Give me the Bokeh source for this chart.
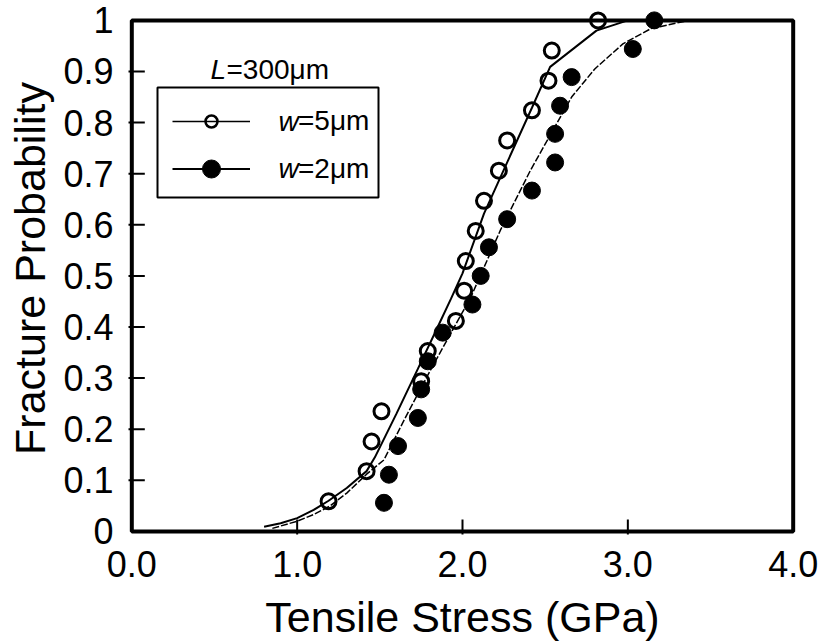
from bokeh.plotting import figure
from bokeh.models import (Range1d, FixedTicker, PrintfTickFormatter, Legend, LegendItem,
                          Label, BoxAnnotation, ColumnDataSource)
from bokeh.embed import file_html
from bokeh.resources import INLINE

# ---------------- data ----------------
open_x = [1.19, 1.42, 1.45, 1.51, 1.75, 1.79, 1.96, 2.01, 2.02, 2.08, 2.13, 2.22, 2.27, 2.42, 2.52, 2.54, 2.82]
open_y = [0.059, 0.118, 0.176, 0.235, 0.294, 0.353, 0.412, 0.471, 0.529, 0.588, 0.647, 0.706, 0.765, 0.824, 0.882, 0.941, 1.0]

filled_x = [1.525, 1.555, 1.61, 1.73, 1.75, 1.79, 1.88, 2.06, 2.11, 2.16, 2.27, 2.42, 2.56, 2.56, 2.59, 2.66, 3.03, 3.16]
filled_y = [0.056, 0.111, 0.167, 0.222, 0.278, 0.333, 0.389, 0.444, 0.5, 0.556, 0.611, 0.667, 0.722, 0.778, 0.833, 0.889, 0.944, 1.0]

fit5_x = [0.80, 0.90, 1.00, 1.10, 1.19, 1.30, 1.42, 1.47, 1.60, 1.73, 1.85, 1.93, 2.00, 2.13, 2.33, 2.42, 2.53, 2.81, 3.00, 3.30]
fit5_y = [0.009, 0.016, 0.026, 0.042, 0.060, 0.085, 0.118, 0.145, 0.230, 0.318, 0.400, 0.455, 0.505, 0.622, 0.765, 0.829, 0.909, 0.980, 1.0, 1.0]

fit2_x = [0.85, 1.00, 1.10, 1.20, 1.30, 1.42, 1.525, 1.65, 1.81, 1.95, 2.05, 2.23, 2.41, 2.66, 2.80, 2.97, 3.14, 3.34, 3.50]
fit2_y = [0.006, 0.020, 0.033, 0.050, 0.075, 0.112, 0.140, 0.220, 0.318, 0.400, 0.458, 0.590, 0.706, 0.850, 0.905, 0.954, 0.984, 0.998, 1.0]

x_ticks = [0.0, 1.0, 2.0, 3.0, 4.0]
y_ticks = [0.0, 0.1, 0.2, 0.3, 0.4, 0.5, 0.6, 0.7, 0.8, 0.9, 1.0]
y_tick_labels = ["0", "0.1", "0.2", "0.3", "0.4", "0.5", "0.6", "0.7", "0.8", "0.9", "1"]

x_title = "Tensile Stress (GPa)"
y_title = "Fracture Probability"
legend_title = ("L", "=300μm")
series_names = [("w", "=5μm"), ("w", "=2μm")]

FONT = "Liberation Sans"

# ---------------- figure ----------------
p = figure(width=827, height=644,
           x_range=Range1d(-0.02, 4.02), y_range=Range1d(-0.006, 1.035),
           output_backend="svg", toolbar_location=None,
           min_border_left=128, min_border_right=31, min_border_top=2, min_border_bottom=110)
p.outline_line_color = None
p.grid.visible = False
p.background_fill_color = "white"
p.border_fill_color = "white"

for ax in (p.xaxis[0], p.yaxis[0]):
    ax.axis_line_color = None
    ax.major_tick_out = 0
    ax.major_tick_in = 0
    ax.major_tick_line_color = None
    ax.minor_tick_line_color = None
    ax.major_label_text_font = FONT
    ax.major_label_text_font_size = "36px"
    ax.major_label_text_color = "black"
    ax.axis_label_text_font = FONT
    ax.axis_label_text_font_size = "43px"
    ax.axis_label_text_font_style = "normal"
    ax.axis_label_text_color = "black"

p.xaxis.ticker = FixedTicker(ticks=x_ticks)
p.xaxis.formatter = PrintfTickFormatter(format="%.1f")
p.xaxis.major_label_standoff = 16
p.xaxis.axis_label = x_title
p.xaxis.axis_label_standoff = 13

p.yaxis.ticker = FixedTicker(ticks=y_ticks)
p.yaxis.major_label_overrides = {t: l for t, l in zip(y_ticks, y_tick_labels)}
p.yaxis.major_label_standoff = 15
p.yaxis.axis_label = y_title
p.yaxis.axis_label_standoff = 6

# inner tick marks: short dashes centred on the frame edge (outer half hidden under the frame)
inner_y = y_ticks[1:-1]
inner_x = x_ticks[1:-1]
p.scatter(x=[x_ticks[0]] * len(inner_y), y=inner_y, marker="dash", size=26,
          line_color="black", line_width=2)
p.scatter(x=inner_x, y=[y_ticks[0]] * len(inner_x), marker="dash", angle=1.5708, size=24,
          line_color="black", line_width=2)

# ---------------- curves and points ----------------
p.line(fit5_x, fit5_y, line_color="black", line_width=2)
p.line(fit2_x, fit2_y, line_color="black", line_width=1.5, line_dash="7 2")
p.scatter(filled_x, filled_y, marker="circle", size=17, fill_color="black", line_color="black")
p.scatter(open_x, open_y, marker="circle", size=15, fill_color=None, line_color="black", line_width=3)

# frame box from 0..4 and 0..1
p.add_layout(BoxAnnotation(left=x_ticks[0], right=x_ticks[-1], bottom=y_ticks[0], top=y_ticks[-1],
                           fill_alpha=0, fill_color=None, line_color="black", line_alpha=1.0,
                           line_width=4))

# ---------------- legend ----------------
nan_src = ColumnDataSource(data=dict(x=[float("nan")], y=[float("nan")]))
l1 = p.line("x", "y", source=nan_src, line_color="black", line_width=1.5)
m1 = p.scatter("x", "y", source=nan_src, marker="circle", fill_color=None, line_color="black", line_width=2.5)
l2 = p.line("x", "y", source=nan_src, line_color="black", line_width=2)
m2 = p.scatter("x", "y", source=nan_src, marker="circle", fill_color="black", line_color="black")

def make_legend(item, gh, loc):
    lg = Legend(items=[item], location=loc, orientation="vertical",
                glyph_width=78, glyph_height=gh, label_height=gh, label_standoff=48,
                label_text_font=FONT, label_text_font_size="28px", label_text_color="black",
                padding=0, margin=0, spacing=0,
                border_line_color=None, background_fill_alpha=0)
    return lg

p.add_layout(make_legend(LegendItem(label=series_names[0][1], renderers=[l1, m1]), 30, (44, 397)))
p.add_layout(make_legend(LegendItem(label=series_names[1][1], renderers=[l2, m2]), 45, (44, 343)))

p.add_layout(BoxAnnotation(left=29, right=250, top=447, bottom=337,
                           left_units="screen", right_units="screen", top_units="screen", bottom_units="screen",
                           fill_alpha=0, fill_color=None, line_color="black", line_alpha=1.0, line_width=2))

for (txt, yy) in ((series_names[0][0], 413), (series_names[1][0], 366)):
    p.add_layout(Label(x=150, y=yy, x_units="screen", y_units="screen", text=txt,
                       text_font=FONT, text_font_size="28px", text_font_style="italic",
                       text_baseline="middle", text_align="left", text_color="black"))

p.add_layout(Label(x=82, y=465, x_units="screen", y_units="screen", text=legend_title[0],
                   text_font=FONT, text_font_size="28px", text_font_style="italic",
                   text_baseline="middle", text_align="left", text_color="black"))
p.add_layout(Label(x=98, y=465, x_units="screen", y_units="screen", text=legend_title[1],
                   text_font=FONT, text_font_size="28px",
                   text_baseline="middle", text_align="left", text_color="black"))

open("out.html", "w").write(file_html(p, INLINE))
